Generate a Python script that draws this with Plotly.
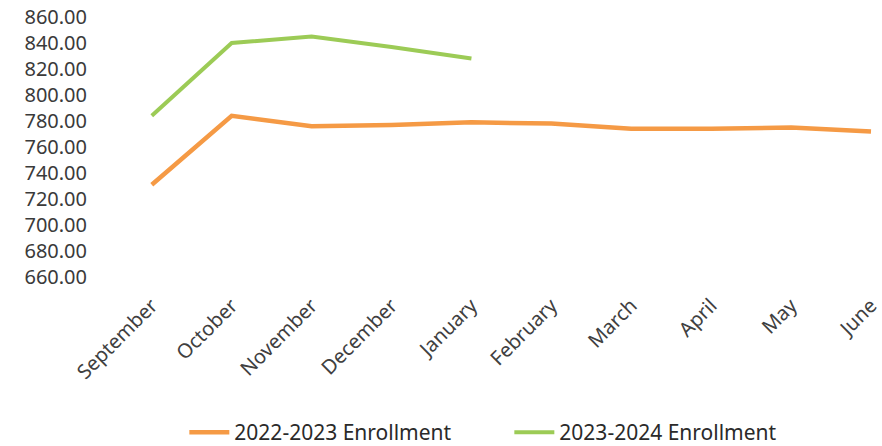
import plotly.graph_objects as go

months = ["September", "October", "November", "December", "January",
          "February", "March", "April", "May", "June"]
enroll_2022_23 = [731, 784, 776, 777, 779, 778, 774, 774, 775, 772]
enroll_2023_24 = [784, 840, 845, 837, 828]

y_ticks = [660, 680, 700, 720, 740, 760, 780, 800, 820, 840, 860]

fig = go.Figure()
fig.add_trace(go.Scatter(
    x=months, y=enroll_2022_23, mode="lines", name="2022-2023 Enrollment",
    line=dict(color="#F59A45", width=4.5),
))
fig.add_trace(go.Scatter(
    x=months[:len(enroll_2023_24)], y=enroll_2023_24, mode="lines",
    name="2023-2024 Enrollment",
    line=dict(color="#9CCB56", width=4),
))

fig.update_layout(
    width=882, height=446,
    margin=dict(l=88, r=0, t=17, b=169),
    paper_bgcolor="white", plot_bgcolor="white",
    font=dict(family="Noto Sans", color="#3a3a3a"),
    showlegend=True,
    legend=dict(
        orientation="h", xref="container", yref="container",
        x=0.209, xanchor="left", y=0.03, yanchor="middle",
        font=dict(size=21, color="#2a2a2a"),
        entrywidth=270, entrywidthmode="pixels",
        itemwidth=40, tracegroupgap=0,
    ),
    xaxis=dict(
        type="category", categoryorder="array", categoryarray=months,
        range=[-0.798, 9.10], showgrid=False, zeroline=False, showline=False,
        ticks="", tickangle=-45, ticklabelstandoff=12,
        tickfont=dict(size=20, color="#404040"),
    ),
    yaxis=dict(
        range=[660, 860], tickvals=y_ticks, tickformat=".2f",
        showgrid=False, zeroline=False, showline=False, ticks="",
        tickfont=dict(size=20, color="#3a3a3a"),
    ),
)

fig.write_html("out.html")
